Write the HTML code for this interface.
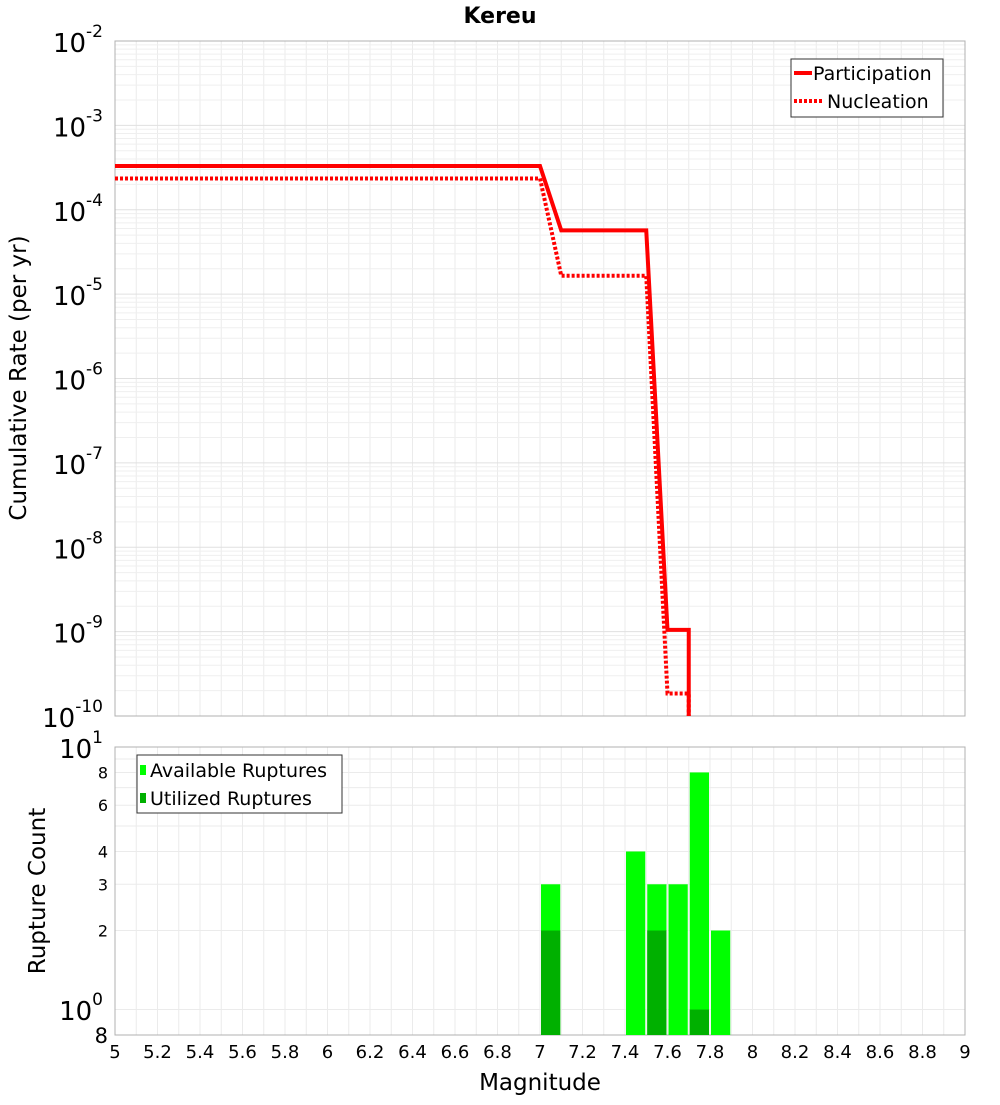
<!DOCTYPE html>
<html><head><meta charset="utf-8"><style>
body{margin:0;background:#fff;}
svg text{font-family:"DejaVu Sans","Liberation Sans",sans-serif;}
</style></head><body>
<svg id="c" width="1000" height="1100" xmlns="http://www.w3.org/2000/svg"></svg>
<script>
const partX=[5.0,7.0,7.1,7.5,7.6,7.7,7.7];
const partY=[3.3e-4,3.3e-4,5.7e-5,5.7e-5,1.05e-9,1.05e-9,1e-11];
const nuclX=[5.0,7.0,7.1,7.5,7.6,7.7,7.7];
const nuclY=[2.35e-4,2.35e-4,1.65e-5,1.65e-5,1.85e-10,1.85e-10,1e-11];
const binStart=[7.0,7.4,7.5,7.6,7.7,7.8];
const available=[3,4,3,3,8,2];
const utilized=[2,0,2,0,1,0];
const xTicks=[5,5.2,5.4,5.6,5.8,6,6.2,6.4,6.6,6.8,7,7.2,7.4,7.6,7.8,8,8.2,8.4,8.6,8.8,9];
const topExps=[-2,-3,-4,-5,-6,-7,-8,-9,-10];
const botTicks=[2,3,4,6,8];

const svg=document.getElementById('c');
const NS='http://www.w3.org/2000/svg';
function mk(t,a,p){const e=document.createElementNS(NS,t);for(const k in a)e.setAttribute(k,a[k]);(p||svg).appendChild(e);return e;}
const L=115,R=965,T1=41,B1=716,T2=747,B2=1035;
const xs=v=>L+(v-5)/4*(R-L);
const y1=v=>T1+(-2-Math.log10(v))/8*(B1-T1);
const bLo=Math.log10(0.8),bHi=1;
const y2=v=>T2+(bHi-Math.log10(v))/(bHi-bLo)*(B2-T2);

const g=mk('g',{});
for(let v=5;v<=9.0001;v+=0.1){const x=xs(v);mk('line',{x1:x,x2:x,y1:T1,y2:B1,stroke:'#ebebeb'},g);mk('line',{x1:x,x2:x,y1:T2,y2:B2,stroke:'#ebebeb'},g);}
for(let e=-10;e<-2;e++)for(let m=1;m<10;m++){const y=y1(m*Math.pow(10,e));mk('line',{x1:L,x2:R,y1:y,y2:y,stroke:m==1?'#e0e0e0':'#efefef'},g);}
for(let m=1;m<10;m++){const y=y2(m);if(y<=B2)mk('line',{x1:L,x2:R,y1:y,y2:y,stroke:'#ebebeb'},g);}
let f=mk('rect',{x:L,y:T1,width:R-L,height:B1-T1,fill:'none',stroke:'#b0b0b0'});
f=mk('rect',{x:L,y:T2,width:R-L,height:B2-T2,fill:'none',stroke:'#b0b0b0'});

let t=mk('text',{x:500,y:23,'text-anchor':'middle','font-size':22,'font-weight':'bold'});t.textContent='Kereu';


topExps.forEach(e=>{const y=y1(Math.pow(10,e));const tx=mk('text',{x:103,y:y+11,'text-anchor':'end','font-size':26});

tx.innerHTML='10<tspan dy="-15" font-size="17">'+e+'</tspan>';});
t=mk('text',{x:0,y:0,transform:'translate(26,378) rotate(-90)','text-anchor':'middle','font-size':23});t.textContent='Cumulative Rate (per yr)';


const cp=mk('clipPath',{id:'cp1'});mk('rect',{x:L,y:T1,width:R-L,height:B1-T1},cp);
function line(X,Y,dash,name){const p=mk('polyline',{points:X.map((x,i)=>xs(x)+','+y1(Y[i])).join(' '),fill:'none',stroke:'#ff0000','stroke-width':4,'clip-path':'url(#cp1)'});
if(dash)p.setAttribute('stroke-dasharray','3,2');}
line(partX,partY,false,'participation-line');
line(nuclX,nuclY,true,'nucleation-line');

const lg=mk('g',{});
mk('rect',{x:791,y:59,width:152,height:58,fill:'#fff',stroke:'#333'},lg);
mk('line',{x1:794,x2:812,y1:73,y2:73,stroke:'#f00','stroke-width':4},lg);
mk('line',{x1:794,x2:824,y1:101,y2:101,stroke:'#f00','stroke-width':4,'stroke-dasharray':'3,2'},lg);
t=mk('text',{x:813,y:80,'font-size':19},lg);t.textContent='Participation';
t=mk('text',{x:827,y:108,'font-size':19},lg);t.textContent='Nucleation';

binStart.forEach((b,i)=>{const x0=xs(b)+1,w=xs(b+0.1)-xs(b)-2;
let r=mk('rect',{x:x0,y:y2(available[i]),width:w,height:B2-y2(available[i]),fill:'#00ff00'});

if(utilized[i]>0){r=mk('rect',{x:x0,y:y2(utilized[i]),width:w,height:B2-y2(utilized[i]),fill:'#00b000'});
}});

t=mk('text',{x:103,y:758,'text-anchor':'end','font-size':26});t.innerHTML='10<tspan dy="-15" font-size="17">1</tspan>';

t=mk('text',{x:103,y:1020,'text-anchor':'end','font-size':26});t.innerHTML='10<tspan dy="-15" font-size="17">0</tspan>';

botTicks.forEach(v=>{const tx=mk('text',{x:108,y:y2(v)+6,'text-anchor':'end','font-size':16});tx.textContent=v;
});
t=mk('text',{x:108,y:1043,'text-anchor':'end','font-size':21});t.textContent='8';
t=mk('text',{x:0,y:0,transform:'translate(45,891) rotate(-90)','text-anchor':'middle','font-size':23});t.textContent='Rupture Count';


const lg2=mk('g',{});
mk('rect',{x:137,y:755,width:205,height:58,fill:'#fff',stroke:'#333'},lg2);
mk('rect',{x:140,y:765,width:6,height:10,fill:'#00ff00'},lg2);
mk('rect',{x:140,y:793,width:6,height:10,fill:'#00b000'},lg2);
t=mk('text',{x:150,y:777,'font-size':19},lg2);t.textContent='Available Ruptures';
t=mk('text',{x:150,y:805,'font-size':19},lg2);t.textContent='Utilized Ruptures';

xTicks.forEach(v=>{const tx=mk('text',{x:xs(v),y:1058,'text-anchor':'middle','font-size':18});tx.textContent=String(v);
});
t=mk('text',{x:540,y:1090,'text-anchor':'middle','font-size':23});t.textContent='Magnitude';

</script>
</body></html>
